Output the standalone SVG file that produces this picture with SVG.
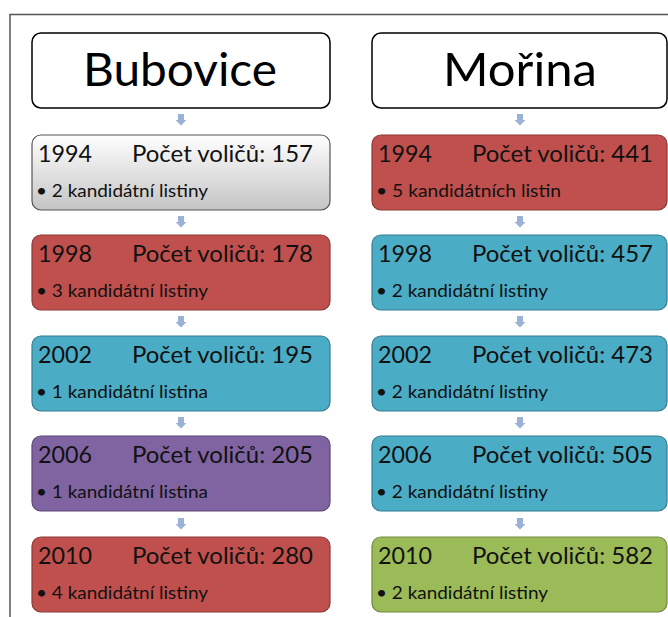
<svg xmlns="http://www.w3.org/2000/svg" width="668" height="617" viewBox="0 0 668 617">
<style>
.title{font-family:Lato,"Liberation Sans",Arial,sans-serif;font-size:47px;fill:#000;text-anchor:middle}
.hd{font-family:Lato,"Liberation Sans",Arial,sans-serif;font-size:24px;fill:#111}
.bl{font-family:Lato,"Liberation Sans",Arial,sans-serif;font-size:16.5px;fill:#111}
.end{text-anchor:end}
.tbox{fill:#fff;stroke:#000;stroke-width:1.5}
.red{fill:#c0504d;stroke:#8c3836;stroke-width:1.2}
.blue{fill:#4bacc6;stroke:#357d91;stroke-width:1.2}
.purple{fill:#8064a2;stroke:#5c4776;stroke-width:1.2}
.green{fill:#9bbb59;stroke:#71893f;stroke-width:1.2}
.grey{fill:url(#gg);stroke:#555;stroke-width:1.2}
.arr{fill:#9bb2d6}
.frame{fill:none;stroke:#555;stroke-width:1.5}
</style>
<defs>
<linearGradient id="gg" x1="0" y1="0" x2="0" y2="1">
<stop offset="0" stop-color="#ffffff"/>
<stop offset="1" stop-color="#c4c4c4"/>
</linearGradient>
<path id="a" d="M-3,0 h6 v6 h2.5 l-5.5,5.5 l-5.5,-5.5 h2.5 z"/>
</defs>
<rect width="668" height="617" fill="#fff"/>
<path class="frame" d="M10,617 V14.5 H668"/>
<g id="connectors">
<use href="#a" class="arr" x="181" y="114"/>
<use href="#a" class="arr" x="181" y="216"/>
<use href="#a" class="arr" x="181" y="316"/>
<use href="#a" class="arr" x="181" y="417"/>
<use href="#a" class="arr" x="181" y="518"/>
<use href="#a" class="arr" x="520" y="114"/>
<use href="#a" class="arr" x="520" y="216"/>
<use href="#a" class="arr" x="520" y="316"/>
<use href="#a" class="arr" x="520" y="417"/>
<use href="#a" class="arr" x="520" y="518"/>
</g>
<g id="bubovice">
<rect class="tbox" x="32" y="33" width="298" height="75" rx="9"/>
<text class="title" x="180" y="86" textLength="194" lengthAdjust="spacingAndGlyphs">Bubovice</text>
</g>
<g id="b1994">
<rect class="grey" x="32" y="135" width="298" height="75" rx="9"/>
<text class="hd" x="38" y="162" textLength="54" lengthAdjust="spacingAndGlyphs">1994</text>
<text class="hd end" x="313" y="162" textLength="181" lengthAdjust="spacingAndGlyphs">Počet voličů: 157</text>
<text class="bl" x="36" y="197" textLength="172" lengthAdjust="spacingAndGlyphs">• 2 kandidátní listiny</text>
</g>
<g id="b1998">
<rect class="red" x="32" y="235" width="298" height="75" rx="9"/>
<text class="hd" x="38" y="262" textLength="54" lengthAdjust="spacingAndGlyphs">1998</text>
<text class="hd end" x="313" y="262" textLength="181" lengthAdjust="spacingAndGlyphs">Počet voličů: 178</text>
<text class="bl" x="36" y="297" textLength="172" lengthAdjust="spacingAndGlyphs">• 3 kandidátní listiny</text>
</g>
<g id="b2002">
<rect class="blue" x="32" y="336" width="298" height="75" rx="9"/>
<text class="hd" x="38" y="363" textLength="54" lengthAdjust="spacingAndGlyphs">2002</text>
<text class="hd end" x="313" y="363" textLength="181" lengthAdjust="spacingAndGlyphs">Počet voličů: 195</text>
<text class="bl" x="36" y="398" textLength="172" lengthAdjust="spacingAndGlyphs">• 1 kandidátní listina</text>
</g>
<g id="b2006">
<rect class="purple" x="32" y="436" width="298" height="75" rx="9"/>
<text class="hd" x="38" y="463" textLength="54" lengthAdjust="spacingAndGlyphs">2006</text>
<text class="hd end" x="313" y="463" textLength="181" lengthAdjust="spacingAndGlyphs">Počet voličů: 205</text>
<text class="bl" x="36" y="498" textLength="172" lengthAdjust="spacingAndGlyphs">• 1 kandidátní listina</text>
</g>
<g id="b2010">
<rect class="red" x="32" y="537" width="298" height="75" rx="9"/>
<text class="hd" x="38" y="564" textLength="54" lengthAdjust="spacingAndGlyphs">2010</text>
<text class="hd end" x="313" y="564" textLength="181" lengthAdjust="spacingAndGlyphs">Počet voličů: 280</text>
<text class="bl" x="36" y="599" textLength="172" lengthAdjust="spacingAndGlyphs">• 4 kandidátní listiny</text>
</g>
<g id="morina">
<rect class="tbox" x="372" y="33" width="295" height="75" rx="9"/>
<text class="title" x="520" y="86" textLength="154" lengthAdjust="spacingAndGlyphs">Mořina</text>
</g>
<g id="m1994">
<rect class="red" x="372" y="135" width="295" height="75" rx="9"/>
<text class="hd" x="378" y="162" textLength="54" lengthAdjust="spacingAndGlyphs">1994</text>
<text class="hd end" x="653" y="162" textLength="181" lengthAdjust="spacingAndGlyphs">Počet voličů: 441</text>
<text class="bl" x="376" y="197" textLength="185" lengthAdjust="spacingAndGlyphs">• 5 kandidátních listin</text>
</g>
<g id="m1998">
<rect class="blue" x="372" y="235" width="295" height="75" rx="9"/>
<text class="hd" x="378" y="262" textLength="54" lengthAdjust="spacingAndGlyphs">1998</text>
<text class="hd end" x="653" y="262" textLength="181" lengthAdjust="spacingAndGlyphs">Počet voličů: 457</text>
<text class="bl" x="376" y="297" textLength="172" lengthAdjust="spacingAndGlyphs">• 2 kandidátní listiny</text>
</g>
<g id="m2002">
<rect class="blue" x="372" y="336" width="295" height="75" rx="9"/>
<text class="hd" x="378" y="363" textLength="54" lengthAdjust="spacingAndGlyphs">2002</text>
<text class="hd end" x="653" y="363" textLength="181" lengthAdjust="spacingAndGlyphs">Počet voličů: 473</text>
<text class="bl" x="376" y="398" textLength="172" lengthAdjust="spacingAndGlyphs">• 2 kandidátní listiny</text>
</g>
<g id="m2006">
<rect class="blue" x="372" y="436" width="295" height="75" rx="9"/>
<text class="hd" x="378" y="463" textLength="54" lengthAdjust="spacingAndGlyphs">2006</text>
<text class="hd end" x="653" y="463" textLength="181" lengthAdjust="spacingAndGlyphs">Počet voličů: 505</text>
<text class="bl" x="376" y="498" textLength="172" lengthAdjust="spacingAndGlyphs">• 2 kandidátní listiny</text>
</g>
<g id="m2010">
<rect class="green" x="372" y="537" width="295" height="75" rx="9"/>
<text class="hd" x="378" y="564" textLength="54" lengthAdjust="spacingAndGlyphs">2010</text>
<text class="hd end" x="653" y="564" textLength="181" lengthAdjust="spacingAndGlyphs">Počet voličů: 582</text>
<text class="bl" x="376" y="599" textLength="172" lengthAdjust="spacingAndGlyphs">• 2 kandidátní listiny</text>
</g>
</svg>
